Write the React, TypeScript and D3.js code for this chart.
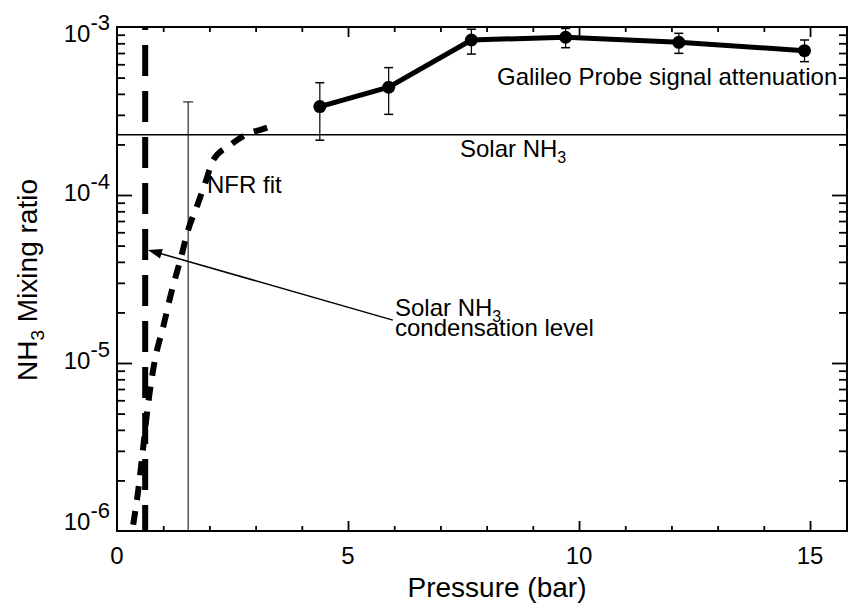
import { useRef, useEffect } from "react";
import * as d3 from "d3";

// Galileo probe points: pressure (bar), mixing ratio, error low/high
const probeP = [4.39, 5.88, 7.67, 9.71, 12.16, 14.88];
const probeQ = [3.36e-4, 4.38e-4, 8.37e-4, 8.69e-4, 8.11e-4, 7.23e-4];
const probeLo = [2.12e-4, 3.02e-4, 6.9e-4, 7.53e-4, 6.97e-4, 6.22e-4];
const probeHi = [4.66e-4, 5.73e-4, 9.7e-4, 9.8e-4, 9.17e-4, 8.37e-4];

// NFR fit curve
const nfrP = [0.35, 0.46, 0.56, 0.67, 0.82, 1.0, 1.19, 1.37, 1.54, 1.74, 1.91, 2.08, 2.45, 2.78, 3.15, 3.43];
const nfrQ = [1.09e-6, 1.75e-6, 3.03e-6, 5.6e-6, 1.04e-5, 1.64e-5, 2.72e-5, 4.1e-5, 6.2e-5, 8.7e-5, 1.18e-4, 1.61e-4, 1.98e-4, 2.28e-4, 2.47e-4, 2.61e-4];

// NFR error bar
const nfrErrP = 1.54;
const nfrErrTop = 3.58e-4;

const solarNH3 = 2.28e-4;
const condensationP = 0.61;

const xTicks = [0, 5, 10, 15];
const xMinor = [1, 2, 3, 4, 6, 7, 8, 9, 11, 12, 13, 14];
const yTicks = [1e-6, 1e-5, 1e-4, 1e-3];
const yExp = ["-6", "-5", "-4", "-3"];
const yMajorInner = [1e-5, 1e-4];
const yMinor = [2, 3, 4, 5, 6, 7, 8, 9].flatMap((m) => [m * 1e-6, m * 1e-5, m * 1e-4]);

const width = 849;
const height = 603;
const margin = { top: 27, right: 2, bottom: 72, left: 117 };
const font = "'Liberation Sans', Arial, Helvetica, sans-serif";

export default function App() {
  const svgRef = useRef<SVGSVGElement>(null);

  useEffect(() => {
    const svg = d3.select(svgRef.current);
    svg.selectAll("*").remove();

    const x = d3.scaleLinear().domain([0, 15.8]).range([margin.left, width - margin.right]);
    const y = d3.scaleLog().domain([1e-6, 1e-3]).range([height - margin.bottom, margin.top]);
    const [x0, x1] = x.range();
    const [y0, y1] = y.range();

    const seg = (ax: number, ay: number, bx: number, by: number, w = 1.5) =>
      svg.append("line").attr("x1", ax).attr("y1", ay).attr("x2", bx).attr("y2", by)
        .attr("stroke", "#000").attr("stroke-width", w);

    // inward ticks on all four sides, via d3 axes without labels
    const tickAxis = (axis: any, tr: string) => {
      const g = svg.append("g").attr("transform", tr).call(axis.tickFormat(() => "").tickSizeOuter(0));
      g.select(".domain").remove();
      g.selectAll(".tick line").attr("stroke", "#000").attr("stroke-width", 1.8);
    };
    tickAxis(d3.axisBottom(x).tickValues(xMinor).tickSizeInner(-5), `translate(0,${y0})`);
    tickAxis(d3.axisBottom(x).tickValues([5, 10, 15]).tickSizeInner(-10), `translate(0,${y0})`);
    tickAxis(d3.axisTop(x).tickValues(xMinor).tickSizeInner(-5), `translate(0,${y1})`);
    tickAxis(d3.axisTop(x).tickValues([5, 10, 15]).tickSizeInner(-10), `translate(0,${y1})`);
    tickAxis(d3.axisLeft(y).tickValues(yMinor).tickSizeInner(-8), `translate(${x0},0)`);
    tickAxis(d3.axisLeft(y).tickValues(yMajorInner).tickSizeInner(-15), `translate(${x0},0)`);
    tickAxis(d3.axisRight(y).tickValues(yMinor).tickSizeInner(-8), `translate(${x1},0)`);
    tickAxis(d3.axisRight(y).tickValues(yMajorInner).tickSizeInner(-15), `translate(${x1},0)`);

    // frame
    svg.append("rect").attr("x", x0).attr("y", y1).attr("width", x1 - x0).attr("height", y0 - y1)
      .attr("fill", "none").attr("stroke", "#000").attr("stroke-width", 2);

    // tick labels
    xTicks.forEach((v) => {
      svg.append("text").attr("x", x(v)).attr("y", y0 + 33).attr("text-anchor", "middle")
        .attr("font-family", font).attr("font-size", 24).text(v);
    });
    yTicks.forEach((v, i) => {
      const base = Math.max(y1 + 15, Math.min(y0 - 1, y(v) + 6));
      const t = svg.append("text").attr("x", x0 - 7).attr("y", base).attr("text-anchor", "end")
        .attr("font-family", font).attr("font-size", 24);
      t.append("tspan").text("10");
      t.append("tspan").attr("dy", -12).attr("font-size", 22).text(yExp[i]);
    });

    // axis titles
    svg.append("text").attr("x", 497).attr("y", y0 + 66).attr("text-anchor", "middle")
      .attr("font-family", font).attr("font-size", 28).text("Pressure (bar)");
    const yl = svg.append("text").attr("transform", `translate(37,280) rotate(-90)`)
      .attr("text-anchor", "middle").attr("font-family", font).attr("font-size", 28);
    yl.append("tspan").text("NH");
    yl.append("tspan").attr("dy", 7).attr("font-size", 19).text("3");
    yl.append("tspan").attr("dy", -7).text(" Mixing ratio");

    // solar line
    seg(x0, y(solarNH3), x1, y(solarNH3), 1.5);

    // condensation level
    seg(x(condensationP), y1, x(condensationP), y0, 6)
      .attr("stroke-dasharray", "31 15").attr("stroke-dashoffset", 28);

    // NFR error bar
    seg(x(nfrErrP), y0, x(nfrErrP), y(nfrErrTop), 1);
    seg(x(nfrErrP) - 5, y(nfrErrTop), x(nfrErrP) + 5, y(nfrErrTop), 1);

    // NFR fit
    const nfrLine = d3.line<number>().x((_, i) => x(nfrP[i])).y((d) => y(d)).curve(d3.curveMonotoneX);
    svg.append("path").attr("d", nfrLine(nfrQ)).attr("fill", "none").attr("stroke", "#000")
      .attr("stroke-width", 6).attr("stroke-dasharray", "14 11");

    // Galileo probe
    probeP.forEach((p, i) => {
      seg(x(p), y(probeLo[i]), x(p), y(probeHi[i]), 1.2);
      [probeLo[i], probeHi[i]].forEach((v) => seg(x(p) - 4.5, y(v), x(p) + 4.5, y(v), 1.5));
    });
    const probeLine = d3.line<number>().x((_, i) => x(probeP[i])).y((d) => y(d));
    svg.append("path").attr("d", probeLine(probeQ)).attr("fill", "none").attr("stroke", "#000").attr("stroke-width", 5);
    svg.selectAll("circle.probe").data(probeQ).enter().append("circle").attr("class", "probe")
      .attr("cx", (_, i) => x(probeP[i])).attr("cy", (d) => y(d)).attr("r", 6.5).attr("fill", "#000");

    // annotations
    svg.append("text").attr("x", 497).attr("y", 85).attr("font-family", font).attr("font-size", 24)
      .text("Galileo Probe signal attenuation");
    const sl = svg.append("text").attr("x", 460).attr("y", 157).attr("font-family", font).attr("font-size", 24);
    sl.append("tspan").text("Solar NH");
    sl.append("tspan").attr("dy", 6).attr("font-size", 16).text("3");
    svg.append("text").attr("x", 207).attr("y", 193).attr("font-family", font).attr("font-size", 24).text("NFR fit");

    const cl = svg.append("text").attr("x", 395).attr("y", 316).attr("font-family", font).attr("font-size", 24);
    cl.append("tspan").text("Solar NH");
    cl.append("tspan").attr("dy", 6).attr("font-size", 16).text("3");
    svg.append("text").attr("x", 395).attr("y", 336).attr("font-family", font).attr("font-size", 24)
      .text("condensation level");

    // arrow
    const ax1 = x(5.97), ay1 = y(1.8e-5), ax2 = x(0.67), ay2 = y(4.71e-5);
    const ang = Math.atan2(ay2 - ay1, ax2 - ax1);
    const hl = 14, hw = 5;
    seg(ax1, ay1, ax2 - Math.cos(ang) * hl * 0.8, ay2 - Math.sin(ang) * hl * 0.8, 1.5);
    const bx = ax2 - Math.cos(ang) * hl, by = ay2 - Math.sin(ang) * hl;
    svg.append("path")
      .attr("d", `M${ax2},${ay2}L${bx - Math.sin(ang) * hw},${by + Math.cos(ang) * hw}L${bx + Math.sin(ang) * hw},${by - Math.cos(ang) * hw}Z`)
      .attr("fill", "#000");
  }, []);

  return (
    <svg ref={svgRef} width={width} height={height}
      style={{ position: "absolute", left: 0, top: 0, background: "#fff" }} />
  );
}
